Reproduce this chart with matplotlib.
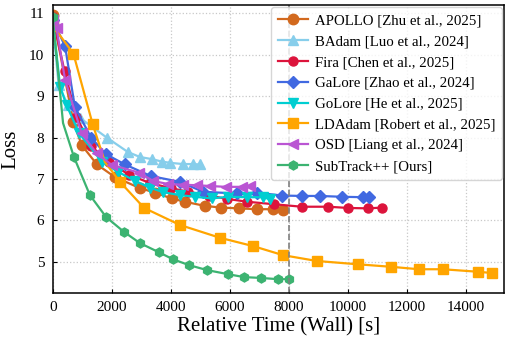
import matplotlib.pyplot as plt

# Loss vs. relative wall time per optimizer
apollo_t = [0, 700, 980, 1500, 2100, 2950, 3470, 4030, 4480, 5160, 5690, 6320, 6940, 7480, 7820]
apollo_loss = [10.95, 8.38, 7.82, 7.35, 7.05, 6.78, 6.67, 6.53, 6.45, 6.35, 6.31, 6.29, 6.27, 6.27, 6.25]

badam_t = [0, 200, 520, 930, 1830, 2550, 2960, 3360, 3700, 3980, 4420, 4760, 4990]
badam_loss = [10.8, 9.27, 8.78, 8.47, 8.0, 7.65, 7.53, 7.48, 7.42, 7.39, 7.36, 7.36, 7.35]

fira_t = [0, 400, 800, 1300, 1900, 2600, 3300, 4000, 4600, 5300, 5900, 6600, 7500, 8440, 9340, 10020, 10700, 11170]
fira_loss = [10.9, 9.6, 8.5, 7.8, 7.4, 7.1, 6.9, 6.78, 6.69, 6.6, 6.52, 6.45, 6.39, 6.33, 6.33, 6.30, 6.29, 6.31]

galore_t = [0, 420, 750, 1300, 1800, 2450, 3330, 4320, 5100, 6240, 6920, 7780, 8440, 9060, 9800, 10530, 10730]
galore_loss = [10.85, 10.2, 8.74, 8.0, 7.6, 7.35, 7.07, 6.93, 6.69, 6.65, 6.67, 6.60, 6.59, 6.59, 6.57, 6.56, 6.56]

golore_t = [0, 250, 470, 900, 1660, 2220, 2800, 3300, 3750, 4320, 4820, 5390, 5950, 6580, 7140, 7370]
golore_loss = [10.85, 9.23, 8.78, 8.1, 7.42, 7.17, 6.95, 6.79, 6.68, 6.61, 6.57, 6.53, 6.57, 6.56, 6.56, 6.51]

ldadam_t = [0, 700, 1355, 1770, 2280, 3100, 4310, 5670, 6790, 7810, 8950, 10340, 11460, 12420, 13230, 14410, 14880]
ldadam_loss = [10.7, 10.03, 8.32, 7.41, 6.93, 6.30, 5.89, 5.58, 5.38, 5.16, 5.02, 4.94, 4.88, 4.82, 4.82, 4.76, 4.73]

osd_t = [0, 130, 420, 980, 1490, 2000, 2940, 3410, 3900, 4420, 4880, 5330, 5870, 6410, 6690]
osd_loss = [10.85, 10.64, 9.39, 8.1, 7.62, 7.34, 7.15, 6.95, 6.88, 6.86, 6.85, 6.83, 6.81, 6.81, 6.82]

subtrack_t = [0, 350, 720, 1260, 1810, 2420, 2960, 3600, 4080, 4620, 5230, 5950, 6490, 7060, 7640, 8010]
subtrack_loss = [10.9, 8.35, 7.53, 6.61, 6.08, 5.72, 5.45, 5.23, 5.06, 4.92, 4.80, 4.70, 4.63, 4.61, 4.58, 4.58]

series = [
    ("APOLLO [Zhu et al., 2025]", apollo_t, apollo_loss, "#D2691E", "o", 7.5),
    ("BAdam [Luo et al., 2024]", badam_t, badam_loss, "#87CEEB", "^", 7.5),
    ("Fira [Chen et al., 2025]", fira_t, fira_loss, "#DC143C", "o", 6.5),
    ("GaLore [Zhao et al., 2024]", galore_t, galore_loss, "#4169E1", "D", 6.5),
    ("GoLore [He et al., 2025]", golore_t, golore_loss, "#00CED1", "v", 7.5),
    ("LDAdam [Robert et al., 2025]", ldadam_t, ldadam_loss, "#FFA500", "s", 7.5),
    ("OSD [Liang et al., 2024]", osd_t, osd_loss, "#BA55D3", "<", 7.5),
    ("SubTrack++ [Ours]", subtrack_t, subtrack_loss, "#3CB371", "h", 6.5),
]

# points where the curve bends but no marker is drawn
no_marker = {"LDAdam": [3], "SubTrack++": [1]}

plt.rcParams['font.family'] = ['Liberation Serif', 'DejaVu Serif']

fig = plt.figure(figsize=(5.07, 3.37), dpi=100)
ax = fig.add_axes([0.104, 0.131, 0.89, 0.854])

for label, t, loss, color, marker, ms in series:
    skip = no_marker.get(label.split(" ")[0], [])
    mark = [i for i in range(len(t)) if i not in skip]
    ax.plot(t, loss, color=color, marker=marker, markersize=ms, linewidth=1.6,
            markevery=mark, label=label)

ax.axvline(8000, color="gray", linestyle="--", linewidth=1.2)

ax.set_xlim(0, 15300)
ax.set_ylim(4.25, 11.2)
ax.set_xticks(range(0, 15000, 2000))
ax.set_yticks([5, 6, 7, 8, 9, 10, 11])

ax.grid(True, linestyle=":", color="#c8c8c8", linewidth=0.9)
ax.set_axisbelow(True)
ax.tick_params(direction="in", labelsize=11, length=3, pad=6)
for sp in ax.spines.values():
    sp.set_linewidth(1.1)

ax.set_xlabel("Relative Time (Wall) [s]", fontsize=15, labelpad=2)
ax.set_ylabel("Loss", fontsize=15, labelpad=6)

ax.legend(loc="upper right", fontsize=10.7, handlelength=2.0, handletextpad=0.45,
          labelspacing=0.5, borderpad=0.45, borderaxespad=0.15, framealpha=0.8,
          edgecolor="#cccccc", fancybox=True)

fig.savefig("out.png", dpi=100)
